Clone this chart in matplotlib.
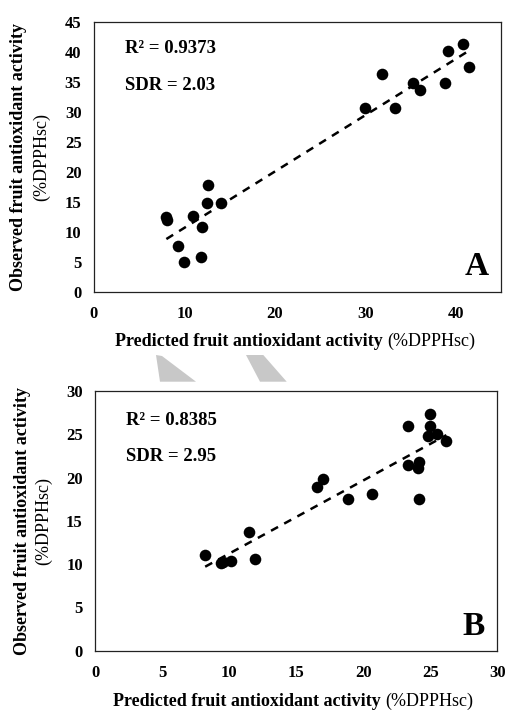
import numpy as np
import matplotlib
matplotlib.use("Agg")
import matplotlib.pyplot as plt
from matplotlib.patches import Polygon

plt.rcParams['font.family'] = ['Liberation Serif', 'DejaVu Serif']

# Panel A data (predicted vs observed)
pred_a = np.array([8.0, 8.1, 9.3, 9.9, 10.95, 11.9, 11.8, 12.5, 12.6, 14.0,
                   29.95, 31.8, 33.3, 35.3, 36.05, 38.8, 39.1, 40.8, 41.5])
obs_a = np.array([12.45, 12.0, 7.7, 5.05, 12.7, 10.9, 5.8, 14.8, 17.8, 14.8,
                  30.6, 36.4, 30.6, 34.8, 33.6, 34.9, 40.1, 41.3, 37.5])

# Panel B data
pred_b = np.array([8.2, 9.38, 9.5, 10.15, 11.9, 11.5, 16.55, 17.0, 18.85, 20.65,
                   23.3, 23.3, 24.15, 24.1, 24.15, 24.95, 24.95, 24.8, 25.5, 26.2])
obs_b = np.array([11.05, 10.1, 10.3, 10.4, 10.6, 13.75, 18.95, 19.8, 17.5, 18.1,
                  26.0, 21.5, 21.75, 21.05, 17.5, 27.3, 26.0, 24.85, 25.0, 24.2])

W, H = 507, 711
fig = plt.figure(figsize=(W / 100, H / 100), dpi=100)


def px(x, y):
    return x / W, 1 - y / H


def panel(rect, xp, yo, xmax, xstep, ymax, ystep, r2, sdr, letter):
    ax = fig.add_axes(rect)
    ax.scatter(xp, yo, s=70, color='black', zorder=3, linewidths=0)
    k, b = np.polyfit(xp, yo, 1)
    xs = np.array([xp.min(), xp.max()])
    ax.plot(xs, k * xs + b, color='black', lw=1.8, linestyle=(0, (3.2, 2.8)))
    ax.set_xlim(0, xmax)
    ax.set_ylim(0, ymax)
    ax.set_xticks(np.arange(0, xmax + 0.1, xstep))
    ax.set_yticks(np.arange(0, ymax + 0.1, ystep))
    ax.tick_params(length=0, labelsize=12)
    ax.tick_params(axis='x', pad=10)
    ax.tick_params(axis='y', pad=9)
    for lab in ax.get_xticklabels() + ax.get_yticklabels():
        lab.set_fontweight('bold')
    for sp in ax.spines.values():
        sp.set_linewidth(0.9)
        sp.set_color('#222222')
    ax.text(0.077, r2[1], r2[0], transform=ax.transAxes, fontsize=13.5,
            fontweight='bold', va='center')
    ax.text(0.077, sdr[1], sdr[0], transform=ax.transAxes, fontsize=13.5,
            fontweight='bold', va='center')
    ax.text(0.94, 0.095, letter, transform=ax.transAxes, fontsize=24,
            fontweight='bold', ha='center', va='center')
    return ax


panel([94 / W, 1 - 292 / H, 407 / W, 270 / H], pred_a, obs_a, 45, 10, 45, 5,
      ('R² = 0.9373', 0.90), ('SDR = 2.03', 0.763), 'A')
panel([95.3 / W, 1 - 650.7 / H, 402 / W, 259.7 / H], pred_b, obs_b, 30, 5, 30, 5,
      ('R² = 0.8385', 0.885), ('SDR = 2.95', 0.747), 'B')

# axis labels (bold part + regular part)
for yx, (xb, xr) in [(341.7, (383, 387)), (701.0, (381, 385))]:
    fig.text(*px(xb, yx), 'Predicted fruit antioxidant activity', fontsize=13,
             fontweight='bold', ha='right', va='center')
    fig.text(*px(xr, yx), '(%DPPHsc)', fontsize=13, ha='left', va='center')

for yc, (xb, xr) in [(157, (19, 42)), (520.8, (23, 44))]:
    fig.text(*px(xb, yc), 'Observed fruit antioxidant activity', fontsize=13,
             fontweight='bold', rotation=90, ha='center', va='center')
    fig.text(*px(xr, yc), '(%DPPHsc)', fontsize=13, rotation=90,
             ha='center', va='center')

# grey shapes between the panels
shapes = [[(156, 355), (162, 356), (196, 381.7), (160, 381.7)],
          [(246, 355), (263.3, 355), (286.7, 381.7), (260, 381.7)]]
for pts in shapes:
    fig.patches.append(Polygon([px(x, y) for x, y in pts], closed=True,
                               transform=fig.transFigure, color='#c8c8c8',
                               lw=0))

fig.savefig('out.png', dpi=100)
